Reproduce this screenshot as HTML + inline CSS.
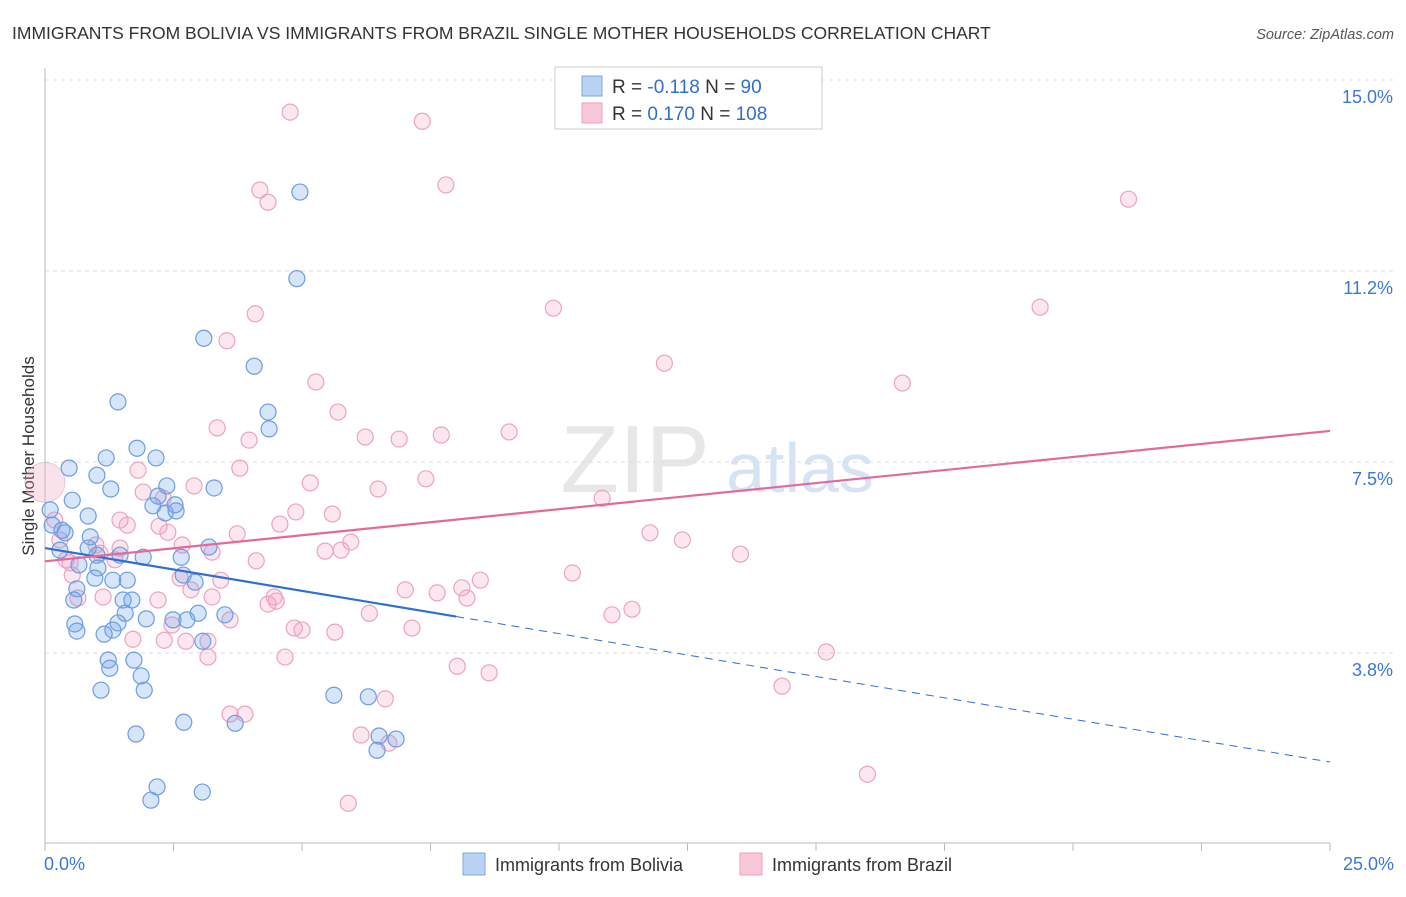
<!DOCTYPE html>
<html><head><meta charset="utf-8"><style>
body{margin:0;background:#fff;font-family:"Liberation Sans",sans-serif;}
svg text{font-family:"Liberation Sans",sans-serif;}
</style></head><body>
<svg id="chart" width="1406" height="892" xmlns="http://www.w3.org/2000/svg">
<text x="12" y="39" font-size="17.5" fill="#333">IMMIGRANTS FROM BOLIVIA VS IMMIGRANTS FROM BRAZIL SINGLE MOTHER HOUSEHOLDS CORRELATION CHART</text>
<text x="1394" y="39" font-size="14.5" fill="#555" font-style="italic" text-anchor="end">Source: ZipAtlas.com</text>
<text x="0" y="0" transform="translate(34,456) rotate(-90)" font-size="17" fill="#333" text-anchor="middle">Single Mother Households</text>
<g><text x="635" y="492" font-size="96" fill="#ddd" font-family="Liberation Serif" text-anchor="middle" opacity="0.7">ZIP</text><text x="800" y="492" font-size="70" fill="#c5d8ee" text-anchor="middle" opacity="0.7">atlas</text></g>
<g id="grid"></g><g id="axes"></g><g id="marks"></g>
<g>
<rect x="555" y="67" width="267" height="62" fill="#fff" stroke="#ccc"/>
<rect x="582" y="76" width="20" height="20" fill="#b9d3f5" stroke="#7aa7e6"/>
<rect x="582" y="103" width="20" height="20" fill="#f9c8d8" stroke="#eea0bb"/>
<text x="612" y="93" font-size="19" fill="#333">R = <tspan fill="#2f6fd0">-0.118</tspan>   N = <tspan fill="#2f6fd0"> 90</tspan></text>
<text x="612" y="120" font-size="19" fill="#333">R = <tspan fill="#2f6fd0"> 0.170</tspan>   N = <tspan fill="#2f6fd0">108</tspan></text>
</g>
<g>
<rect x="463" y="853" width="22" height="22" fill="#b9d3f5" stroke="#7aa7e6"/>
<text x="495" y="871" font-size="18" fill="#333">Immigrants from Bolivia</text>
<rect x="740" y="853" width="22" height="22" fill="#f9c8d8" stroke="#eea0bb"/>
<text x="772" y="871" font-size="18" fill="#333">Immigrants from Brazil</text>
</g>
</svg>
<script>
const yTicks=[3.75,7.5,11.25,15];
const yTickLabels=["3.8%","7.5%","11.2%","15.0%"];
const xTickLabels=["0.0%","25.0%"];
const boliviaX=[4.96,4.90,3.09,4.07,1.42,4.34,4.36,1.79,2.16,1.19,0.47,1.01,1.28,3.29,2.37,0.53,2.20,2.10,2.53,2.34,2.55,0.84,0.10,0.14,0.33,0.39,0.88,1.46,1.91,2.65,3.19,0.29,0.84,1.01,0.66,1.03,1.60,0.97,1.32,2.92,0.62,2.69,1.69,1.52,0.56,3.50,2.98,2.76,2.49,1.97,1.56,1.42,1.32,1.15,0.62,0.58,3.07,1.73,1.23,1.26,1.87,1.09,1.93,5.62,6.29,2.70,3.70,1.77,6.50,6.83,6.46,2.18,3.06,2.06];
const boliviaY=[12.80,11.10,9.93,9.38,8.68,8.48,8.15,7.77,7.58,7.58,7.38,7.24,6.97,6.99,7.03,6.75,6.83,6.64,6.66,6.50,6.54,6.44,6.56,6.26,6.16,6.11,6.03,5.67,5.63,5.63,5.83,5.77,5.81,5.67,5.48,5.42,5.18,5.22,5.18,5.14,5.01,5.28,4.79,4.79,4.79,4.50,4.53,4.40,4.40,4.42,4.53,4.34,4.20,4.12,4.18,4.32,3.98,3.61,3.61,3.45,3.30,3.02,3.02,2.92,2.89,2.39,2.37,2.16,2.12,2.06,1.84,1.12,1.02,0.86];
const brazilX=[4.77,7.34,7.80,4.18,4.34,21.08,9.89,19.36,4.09,3.54,12.05,16.68,5.27,5.70,3.35,7.71,9.03,6.23,6.89,3.97,1.81,3.79,7.41,6.48,2.90,5.16,10.84,1.91,2.30,5.59,4.88,1.46,1.60,4.57,2.22,3.74,2.39,11.77,12.40,5.95,5.45,5.76,13.53,4.11,2.67,3.25,1.46,0.99,1.07,1.36,0.53,0.49,10.26,8.47,8.11,7.01,7.63,8.21,4.46,3.42,2.63,2.84,3.25,4.34,4.50,2.20,1.13,0.64,11.03,11.42,6.31,3.60,2.47,7.14,4.85,5.00,5.64,3.17,2.74,2.32,1.71,4.67,3.17,15.20,8.02,8.64,14.34,6.62,3.60,3.89,6.15,6.69,16.00,5.90,0.29,0.41,0.19];
const brazilY=[14.37,14.19,12.94,12.84,12.60,12.66,10.52,10.54,10.41,9.88,9.44,9.05,9.07,8.48,8.17,8.03,8.09,7.99,7.95,7.93,7.34,7.38,7.17,6.97,7.03,7.09,6.79,6.91,6.79,6.48,6.52,6.36,6.26,6.28,6.24,6.09,6.12,6.11,5.97,5.93,5.75,5.77,5.69,5.56,5.87,5.73,5.81,5.87,5.71,5.58,5.28,5.52,5.32,5.18,5.03,4.99,4.93,4.83,4.85,5.18,5.22,4.99,4.85,4.71,4.77,4.79,4.85,4.83,4.50,4.61,4.53,4.40,4.30,4.24,4.24,4.20,4.16,3.98,3.98,4.00,4.02,3.67,3.67,3.77,3.49,3.36,3.10,2.85,2.55,2.55,2.14,1.98,1.37,0.80,5.97,5.58,6.36];
const boliviaTrend=[5.81,-0.168]; // intercept, slope
const brazilTrend=[5.55,0.1024];
const X0=45,X1=1330,YT=80,YB=843;
const sx=v=>X0+(v/25)*(X1-X0);
const sy=v=>YT+(15-v)*(653-80)/11.25;
const NS="http://www.w3.org/2000/svg";
function mk(tag,attrs,parent){const e=document.createElementNS(NS,tag);for(const k in attrs)e.setAttribute(k,attrs[k]);parent.appendChild(e);return e;}
const grid=document.getElementById('grid'),axes=document.getElementById('axes'),marks=document.getElementById('marks');
yTicks.forEach((t,i)=>{
 const l=mk('line',{x1:X0,x2:1394,y1:sy(t),y2:sy(t),stroke:'#ddd','stroke-dasharray':'4,4'},grid);
 
 
 const tx=mk('text',{x:1393,y:sy(t)+23,'font-size':18,fill:'#3a78d8','text-anchor':'end'},axes);
 tx.textContent=yTickLabels[i];
 
 
});
const xa=mk('line',{x1:X0,x2:X1,y1:YB,y2:YB,stroke:'#bbb'},axes);


const ya=mk('line',{x1:X0,x2:X0,y1:68,y2:YB,stroke:'#bbb'},axes);


for(let i=0;i<=10;i++){
 const tk=mk('line',{x1:sx(i*2.5),x2:sx(i*2.5),y1:YB,y2:YB+8,stroke:'#bbb'},axes);
 
 
}
[[0,'start',44],[25,'end',1394]].forEach((d,i)=>{
 const tx=mk('text',{x:d[2],y:870,'font-size':18,fill:'#3a78d8','text-anchor':d[1]},axes);
 tx.textContent=xTickLabels[i];
 
 
});
const big=mk('circle',{cx:sx(0),cy:sy(7.1),r:20,fill:'rgba(240,160,190,0.3)',stroke:'rgba(200,170,200,0.5)'},marks);


brazilX.forEach((x,i)=>{
 const c=mk('circle',{cx:sx(x),cy:sy(brazilY[i]),r:8,fill:'rgba(245,160,190,0.25)',stroke:'#eda3be','stroke-width':1.2},marks);
 
 
});
boliviaX.forEach((x,i)=>{
 const c=mk('circle',{cx:sx(x),cy:sy(boliviaY[i]),r:8,fill:'rgba(110,160,230,0.28)',stroke:'#6c9de2','stroke-width':1.2},marks);
 
 
});
const bt=x=>boliviaTrend[0]+boliviaTrend[1]*x, pt=x=>brazilTrend[0]+brazilTrend[1]*x;
const l1=mk('line',{x1:sx(0),y1:sy(bt(0)),x2:sx(8),y2:sy(bt(8)),stroke:'#2f6fd0','stroke-width':2.2},marks);


const l2=mk('line',{x1:sx(8),y1:sy(bt(8)),x2:sx(25),y2:sy(bt(25)),stroke:'#2f6fd0','stroke-width':1,'stroke-dasharray':'8,6'},marks);


const l3=mk('line',{x1:sx(0),y1:sy(pt(0)),x2:sx(25),y2:sy(pt(25)),stroke:'#e4699a','stroke-width':2.2},marks);


</script>
</body></html>
